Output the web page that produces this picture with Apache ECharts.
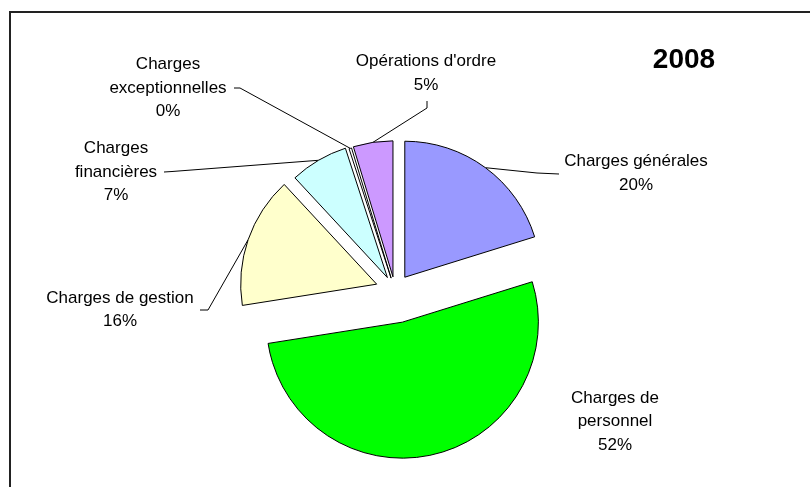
<!DOCTYPE html>
<html>
<head>
<meta charset="utf-8">
<script src="https://cdn.jsdelivr.net/npm/echarts@6/dist/echarts.min.js"></script>
<style>
  html, body { margin: 0; padding: 0; background: #ffffff; }
  #chart { width: 810px; height: 487px; }
</style>
</head>
<body>
<div id="chart"></div>
<script>
// Répartition des charges, 2008 (en % du total)
const year = '2008';
const categories = ['Charges générales', 'Charges de personnel', 'Charges de gestion',
                    'Charges financières', 'Charges exceptionnelles', "Opérations d'ordre"];
const shares = [20.2, 52.3, 15.6, 6.9, 0.3, 4.7];
const labelNames = ['Charges générales', 'Charges de\npersonnel', 'Charges de gestion',
                    'Charges\nfinancières', 'Charges\nexceptionnelles', "Opérations d'ordre"];

// ---- style / layout ----
const colors = ['#9999FF', '#00FF00', '#FFFFCC', '#CCFFFF', '#FFFFFF', '#CC99FF'];
const CX = 395, CY = 290.5, R = 136;          // pie centre and radius
const explode = [16.5, 32.5, 19.4, 15, 13, 13.8]; // distance each slice is pulled out
// centre of each text block
const labelAt = [[636, 173.5], [615, 421.5], [120, 310], [116, 172], [168, 88], [426, 73.5]];
// leader end next to the text, then elbow
const leaderStub = [
  [[559, 174], [537, 173]],
  null,
  [[200, 310], [208, 310]],
  [[164, 172], [172, 171.5]],
  [[234, 88], [240, 88]],
  [[427, 101], [427, 108]]
];

const total = shares.reduce((a, b) => a + b, 0);
const rad = Math.PI / 180;
const midAngles = [];
let acc = 0;
shares.forEach(v => {
  const span = v / total * 360;
  midAngles.push(acc + span / 2);
  acc += span;
});

// each slice is drawn by its own pie series (others left transparent) so it can be pulled out
const sliceCenters = midAngles.map((m, i) => [
  CX + explode[i] * Math.sin(m * rad),
  CY - explode[i] * Math.cos(m * rad)
]);

const series = categories.map((_, i) => ({
  type: 'pie',
  silent: true,
  animation: false,
  startAngle: 90,
  clockwise: true,
  center: sliceCenters[i],
  radius: [0, R],
  avoidLabelOverlap: false,
  data: categories.map((name, j) => ({
    name: name,
    value: shares[j],
    itemStyle: j === i
      ? { color: colors[j], borderColor: '#000', borderWidth: 1 }
      : { color: 'rgba(0,0,0,0)', borderWidth: 0 },
    label: { show: j === i },
    labelLine: { show: j === i && leaderStub[j] !== null }
  })),
  label: {
    position: 'outside',
    formatter: p => labelNames[p.dataIndex] + '\n' + Math.round(p.percent) + '%',
    fontFamily: '"Liberation Sans", Arial, sans-serif',
    fontSize: 17,
    lineHeight: 23.5,
    color: '#000',
    align: 'center'
  },
  labelLine: { smooth: false, lineStyle: { color: '#000', width: 1 } },
  labelLayout: function (params) {
    const k = params.dataIndex;
    if (k !== i) return {};
    const c = sliceCenters[k];
    const m = midAngles[k] * rad;
    const out = {
      x: labelAt[k][0],
      y: labelAt[k][1],
      align: 'center',
      verticalAlign: 'middle'
    };
    if (leaderStub[k]) {
      const arc = [c[0] + R * Math.sin(m), c[1] - R * Math.cos(m)];
      out.labelLinePoints = [arc, leaderStub[k][1], leaderStub[k][0]];
    }
    return out;
  }
}));

const chart = echarts.init(document.getElementById('chart'), null, { renderer: 'canvas' });
chart.setOption({
  backgroundColor: '#ffffff',
  animation: false,
  graphic: [
    {
      type: 'rect',
      shape: { x: 10, y: 12, width: 900, height: 600 },
      style: { fill: 'none', stroke: '#222', lineWidth: 2 },
      silent: true
    },
    {
      type: 'text',
      x: 684, y: 60,
      style: {
        text: year,
        align: 'center',
        verticalAlign: 'middle',
        font: 'bold 28px "Liberation Sans", Arial, sans-serif',
        fill: '#000'
      },
      silent: true
    }
  ],
  series: series
});
</script>
</body>
</html>
